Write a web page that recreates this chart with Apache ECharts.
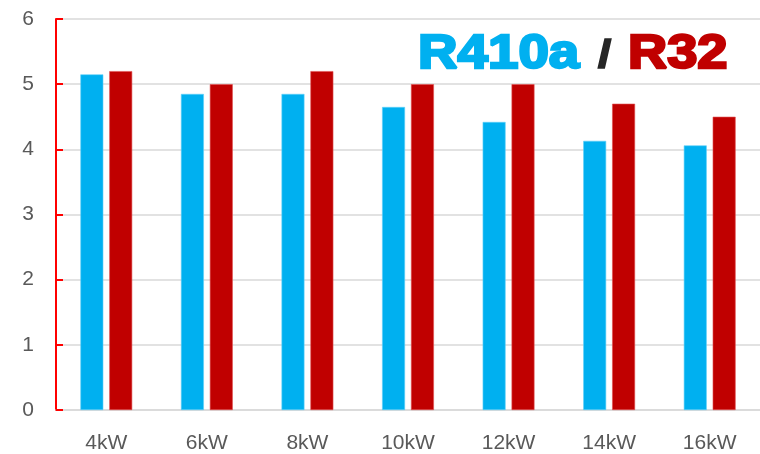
<!DOCTYPE html>
<html>
<head>
<meta charset="utf-8">
<script src="https://cdn.jsdelivr.net/npm/echarts@6/dist/echarts.min.js"></script>
<style>html,body{margin:0;padding:0;background:#fff;}#c{width:760px;height:454px;}</style>
</head>
<body>
<div id="c"></div>
<script>
var categories = ['4kW', '6kW', '8kW', '10kW', '12kW', '14kW', '16kW'];
var r410a = [5.15, 4.85, 4.85, 4.65, 4.42, 4.13, 4.06];
var r32 = [5.2, 5.0, 5.2, 5.0, 5.0, 4.7, 4.5];
var yTicks = [0, 1, 2, 3, 4, 5, 6];
var titleParts = ['R410a', '/', 'R32'];

var chart = echarts.init(document.getElementById('c'));
chart.setOption({
  animation: false,
  backgroundColor: '#ffffff',
  graphic: [
    { type: 'text', x: 418, y: 54.5, scaleX: 1.14, z: 100,
      style: { text: titleParts[0], fontFamily: 'Liberation Sans', fontWeight: 'bold', fontSize: 48,
        fill: '#00b0f0', stroke: '#00b0f0', lineWidth: 2.5, textAlign: 'left', verticalAlign: 'middle' } },
    { type: 'text', x: 598, y: 57, scaleX: 1.25, z: 100,
      style: { text: titleParts[1], fontFamily: 'Liberation Sans', fontWeight: 'bold', fontSize: 38,
        fill: '#262626', stroke: '#262626', lineWidth: 1.5, textAlign: 'left', verticalAlign: 'middle' } },
    { type: 'text', x: 628, y: 54.5, scaleX: 1.13, z: 100,
      style: { text: titleParts[2], fontFamily: 'Liberation Sans', fontWeight: 'bold', fontSize: 48,
        fill: '#c00000', stroke: '#c00000', lineWidth: 2.5, textAlign: 'left', verticalAlign: 'middle' } }
  ],
  grid: { left: 56, right: 0, top: 19, bottom: 42 },
  xAxis: {
    type: 'category',
    data: categories,
    axisLine: { show: true, lineStyle: { color: '#d9d9d9', width: 1.5 } },
    axisTick: { show: false },
    axisLabel: { color: '#595959', fontSize: 21, fontFamily: 'Liberation Sans', margin: 23 }
  },
  yAxis: {
    type: 'value',
    min: 0, max: 6, interval: 1,
    axisLine: { show: true, lineStyle: { color: '#ff0000', width: 2 } },
    axisTick: { show: true, inside: true, length: 7, lineStyle: { color: '#ff0000', width: 2 } },
    axisLabel: {
      color: '#595959', fontSize: 21, fontFamily: 'Liberation Sans', margin: 22,
      formatter: function (v) { return yTicks.indexOf(v) >= 0 ? String(v) : ''; }
    },
    splitLine: { show: true, lineStyle: { color: '#d9d9d9', width: 1.5 } }
  },
  series: [
    { name: 'R410a', type: 'bar', data: r410a, barWidth: '22.8%', barGap: '26%',
      itemStyle: { color: '#00b0f0', borderColor: '#5fd0f8', borderWidth: 0.6 } },
    { name: 'R32', type: 'bar', data: r32, barWidth: '22.8%',
      itemStyle: { color: '#c00000', borderColor: '#e05050', borderWidth: 0.6 } }
  ]
});
</script>
</body>
</html>
